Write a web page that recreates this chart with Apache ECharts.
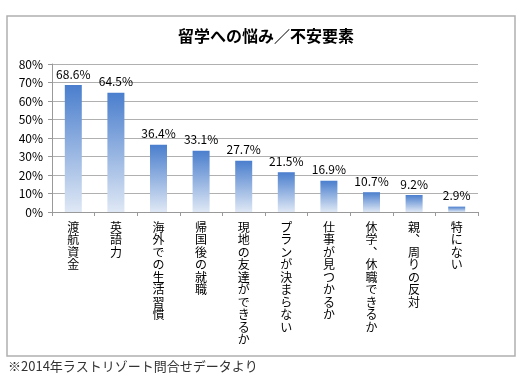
<!DOCTYPE html>
<html><head><meta charset="utf-8">
<script src="https://cdn.jsdelivr.net/npm/echarts@6/dist/echarts.min.js"></script>
<style>html,body{margin:0;padding:0;background:#fff}#c{width:531px;height:379px}</style>
</head><body><div id="c"></div>
<script>
const categories = ['渡航資金','英語力','海外での生活習慣','帰国後の就職','現地の友達ができるか','プランが決まらない','仕事が見つかるか','休学︑休職できるか','親︑周りの反対','特にない'];
const values = [68.6, 64.5, 36.4, 33.1, 27.7, 21.5, 16.9, 10.7, 9.2, 2.9];
const yTicks = [0, 10, 20, 30, 40, 50, 60, 70, 80];
const titleText = '留学への悩み／不安要素';
const footnote = '※2014年ラストリゾート問合せデータより';

const font = '"Noto Sans CJK JP", "Noto Sans", sans-serif';
const chart = echarts.init(document.getElementById('c'), null, {renderer: 'canvas'});
chart.setOption({
  animation: false,
  backgroundColor: '#fff',
  title: {
    text: titleText, left: 261, top: 23, textAlign: 'center',
    textStyle: {fontFamily: font, fontSize: 16, fontWeight: 'bold', color: '#000'}
  },
  graphic: [
    {type: 'rect', shape: {x: 7, y: 16, width: 508, height: 340}, style: {fill: 'none', stroke: '#b0b0b0', lineWidth: 1.5}, z: -1},
    {type: 'text', left: 8, top: 360, style: {text: footnote, font: '13px ' + font, fill: '#333'}}
  ],
  grid: {left: 52, right: 53, top: 64, bottom: 167, containLabel: false},
  xAxis: {
    type: 'category', data: categories,
    axisLine: {lineStyle: {color: '#999', width: 1}},
    axisTick: {show: true, length: 4, lineStyle: {color: '#999'}},
    axisLabel: {
      interval: 0, margin: 9, color: '#000', fontFamily: font, fontSize: 12, lineHeight: 12.5,
      verticalAlign: 'top',
      formatter: v => v.split('').join('\n')
    }
  },
  yAxis: {
    type: 'value', min: yTicks[0], max: yTicks[yTicks.length - 1], interval: 10,
    axisLine: {show: true, lineStyle: {color: '#999', width: 1}},
    axisTick: {show: true, length: 4, lineStyle: {color: '#999'}},
    splitLine: {lineStyle: {color: '#b0b0b0', width: 1}},
    axisLabel: {color: '#000', fontFamily: font, fontSize: 12, margin: 9, formatter: '{value}%'}
  },
  series: [{
    type: 'bar', data: values, barWidth: 17,
    itemStyle: {
      color: new echarts.graphic.LinearGradient(0, 0, 0, 1, [
        {offset: 0, color: '#4a7ecd'},
        {offset: 1, color: '#dfe8f5'}
      ])
    },
    label: {
      show: true, position: 'top', distance: 5, color: '#000', fontFamily: font, fontSize: 12,
      formatter: p => p.value.toFixed(1) + '%'
    }
  }]
});
</script></body></html>
